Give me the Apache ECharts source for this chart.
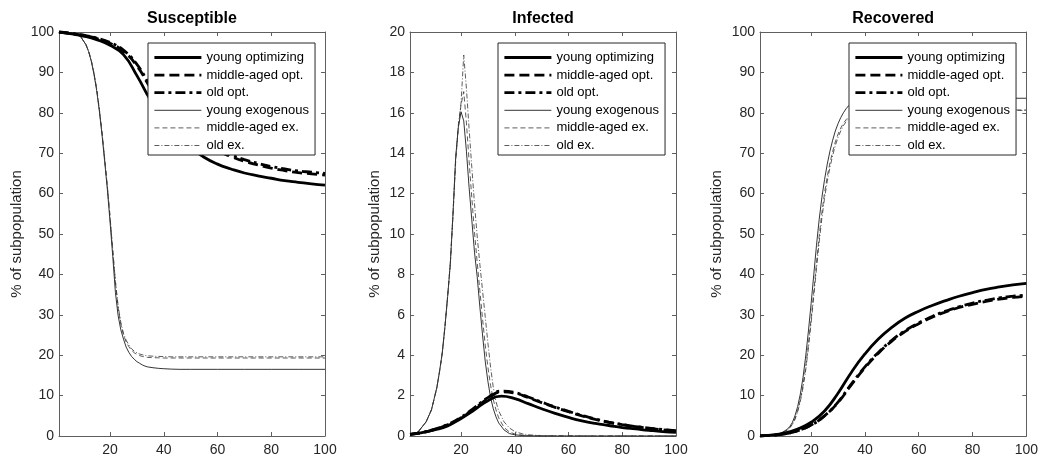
<!DOCTYPE html>
<html><head><meta charset="utf-8">
<script src="https://cdn.jsdelivr.net/npm/echarts@6/dist/echarts.min.js"></script>
<style>html,body{margin:0;padding:0;background:#fff}#c{width:1041px;height:459px}</style>
</head><body><div id="c"></div>
<script>
// ---------- data ----------
const seriesNames = ['young optimizing', 'middle-aged opt.', 'old opt.', 'young exogenous', 'middle-aged ex.', 'old ex.'];
const panelTitles = ['Susceptible', 'Infected', 'Recovered'];
const yLabel = '% of subpopulation';
const xTicks = [20, 40, 60, 80, 100];

const tSlow = [1,5,10,15,20,25,30,35,40,45,50,55,60,65,70,75,80,85,90,95,100];
const tFast = [1,4,7,9,11,12,13,14,15,16,17,18,19,20,21,22,23,24,25,26,27,28,29,30,31,32,33,34,36,38,40,43,46,50,60,70,80,90,100];

// Susceptible
const sYoungOpt = [100,99.6,99.0,98.1,96.7,94.4,89.2,83.2,78.3,74.5,71.4,69.0,67.3,66.1,65.1,64.4,63.8,63.2,62.8,62.4,62.1];
const sMidOpt   = [100,99.7,99.2,98.4,97.2,95.2,91.6,86.2,81.5,77.8,74.8,72.5,70.6,69.2,68.0,67.1,66.3,65.7,65.2,64.9,64.6];
const sOldOpt   = [100,99.7,99.2,98.5,97.4,95.5,92.0,86.7,82.0,78.3,75.3,73.0,71.0,69.6,68.4,67.5,66.7,66.1,65.6,65.3,65.0];
const sYoungEx  = [100,99.9,99.6,98.9,96.9,95.2,92.8,89.6,85.6,80.5,74.6,67.9,61.0,53.0,44.5,35.5,29.8,26.3,24.0,22.0,20.7,19.7,19.0,18.4,18.0,17.6,17.3,17.1,16.9,16.75,16.65,16.55,16.5,16.5,16.5,16.5,16.5,16.5,16.5];
const sMidEx    = [100,99.9,99.6,98.9,96.9,95.3,93.0,89.9,86.0,81.0,75.2,68.6,61.8,54.2,46.0,38.0,31.8,27.7,25.0,23.3,22.1,21.2,20.6,20.2,19.9,19.7,19.55,19.45,19.4,19.35,19.3,19.3,19.3,19.3,19.3,19.3,19.3,19.3,19.3];
const sOldEx    = [100,99.9,99.6,98.9,96.9,95.3,93.0,89.9,86.0,81.0,75.2,68.6,61.8,54.2,46.0,38.3,32.2,28.1,25.4,23.7,22.5,21.6,21.0,20.6,20.3,20.1,19.95,19.85,19.75,19.7,19.65,19.6,19.6,19.6,19.6,19.6,19.6,19.6,19.6];

// Infected
const iYoungOpt = [0.08,0.15,0.3,0.5,0.87,1.3,1.75,1.97,1.85,1.6,1.35,1.12,0.92,0.75,0.62,0.52,0.42,0.35,0.28,0.22,0.18];
const iMidOpt   = [0.08,0.15,0.32,0.55,0.9,1.35,1.85,2.18,2.12,1.9,1.65,1.42,1.2,1.0,0.82,0.68,0.56,0.46,0.38,0.31,0.25];
const iOldOpt   = [0.08,0.16,0.33,0.57,0.93,1.4,1.9,2.22,2.15,1.93,1.68,1.44,1.22,1.02,0.84,0.69,0.57,0.47,0.39,0.32,0.26];
const iYoungEx  = [0.05,0.2,0.7,1.3,2.4,3.2,4.1,5.4,6.9,8.5,11.0,13.8,15.3,16.05,15.6,14.1,12.3,10.7,9.1,7.9,6.4,5.0,3.7,2.7,1.9,1.35,0.95,0.65,0.3,0.12,0.06,0.02,0.01,0,0,0,0,0,0];
const iMidEx    = [0.05,0.2,0.7,1.3,2.4,3.2,4.1,5.4,6.9,8.5,10.9,13.6,15.3,16.4,17.05,15.5,13.6,11.8,10.1,8.6,7.2,5.8,4.5,3.4,2.5,1.8,1.3,0.9,0.42,0.2,0.1,0.04,0.02,0.01,0,0,0,0,0];
const iOldEx    = [0.05,0.2,0.7,1.3,2.4,3.2,4.1,5.4,6.9,8.6,11.0,13.7,15.4,16.5,18.86,17.2,15.2,13.3,11.5,9.9,8.5,7.2,5.9,4.6,3.4,2.4,1.7,1.25,0.7,0.4,0.22,0.1,0.05,0.02,0.01,0,0,0,0];

// Recovered
const rYoungOpt = [0,0.2,0.7,1.7,3.4,6.2,10.6,15.8,20.3,24.0,26.9,29.2,30.9,32.3,33.5,34.6,35.5,36.3,36.9,37.4,37.8];
const rMidOpt   = [0,0.15,0.5,1.3,2.7,5.0,8.3,12.7,16.9,20.5,23.5,25.9,27.8,29.4,30.7,31.8,32.6,33.3,33.9,34.3,34.6];
const rOldOpt   = [0,0.15,0.5,1.3,2.7,5.0,8.4,12.9,17.1,20.7,23.7,26.1,28.0,29.6,30.9,32.0,32.9,33.6,34.2,34.6,34.9];
const rYoungEx  = [0,0.1,0.4,0.8,1.6,2.3,3.3,5.0,7.3,10.4,14.5,19.8,26.0,32.8,40.0,47.2,53.6,59.0,63.5,67.3,70.5,73.2,75.5,77.3,78.8,80.0,81.0,81.8,82.8,83.3,83.5,83.6,83.6,83.6,83.6,83.6,83.6,83.6,83.6];
const rMidEx    = [0,0.1,0.35,0.7,1.4,2.0,2.9,4.3,6.3,9.0,12.6,17.2,22.8,29.0,35.8,42.8,49.5,55.3,60.2,64.2,67.6,70.4,72.8,74.7,76.2,77.4,78.3,79.0,79.9,80.3,80.5,80.6,80.7,80.7,80.7,80.7,80.7,80.7,80.7];
const rOldEx    = [0,0.1,0.35,0.7,1.4,2.0,2.8,4.1,6.0,8.6,12.0,16.4,21.8,28.0,34.6,41.5,48.0,53.9,58.9,63.0,66.5,69.4,71.9,73.9,75.5,76.8,77.8,78.6,79.6,80.1,80.4,80.55,80.6,80.6,80.6,80.6,80.6,80.6,80.6];

// ---------- chart ----------
const FONT = '"Liberation Sans", Arial, Helvetica, sans-serif';
const AX = '#5f5f5f';
const TXT = '#262626';
const zip = (t, v) => t.map((x, i) => [x, v[i]]);

const lineStyles = [
  { width: 2.8, type: 'solid', color: '#000' },
  { width: 2.8, type: [10, 5], color: '#000' },
  { width: 2.8, type: [10, 4, 3, 4], color: '#000' },
  { width: 0.8, type: 'solid', color: '#000' },
  { width: 0.8, type: [5, 3], color: '#333' },
  { width: 0.8, type: [5, 2, 1, 2], color: '#333' }
];

const panels = [
  { yMax: 100, yInt: 10, nameGap: 35, grid: { left: 59, width: 266 }, legendLeft: 148,
    data: [[tSlow, sYoungOpt], [tSlow, sMidOpt], [tSlow, sOldOpt], [tFast, sYoungEx], [tFast, sMidEx], [tFast, sOldEx]] },
  { yMax: 20, yInt: 2, nameGap: 28, grid: { left: 410, width: 266 }, legendLeft: 498,
    data: [[tSlow, iYoungOpt], [tSlow, iMidOpt], [tSlow, iOldOpt], [tFast, iYoungEx], [tFast, iMidEx], [tFast, iOldEx]] },
  { yMax: 100, yInt: 10, nameGap: 36, grid: { left: 760, width: 267 }, legendLeft: 849,
    data: [[tSlow, rYoungOpt], [tSlow, rMidOpt], [tSlow, rOldOpt], [tFast, rYoungEx], [tFast, rMidEx], [tFast, rOldEx]] }
];

const grid = [], xAxis = [], yAxis = [], series = [], legend = [];
panels.forEach((p, k) => {
  grid.push({ left: p.grid.left, width: p.grid.width, top: 32, height: 404 });
  const tick = { show: true, inside: true, length: 4, lineStyle: { color: AX, width: 1 } };
  const line = { show: true, onZero: false, lineStyle: { color: AX, width: 1 } };
  xAxis.push({ type: 'value', gridIndex: k, min: 1, max: 100, position: 'bottom',
    axisLine: line, axisTick: Object.assign({ customValues: xTicks }, tick),
    axisLabel: { customValues: xTicks, margin: 7, fontSize: 14, color: TXT, fontFamily: FONT },
    splitLine: { show: false } });
  xAxis.push({ type: 'value', gridIndex: k, min: 1, max: 100, position: 'top',
    axisLine: line, axisTick: Object.assign({ customValues: xTicks }, tick),
    axisLabel: { show: false }, splitLine: { show: false },
    name: panelTitles[k], nameLocation: 'middle', nameGap: 5,
    nameTextStyle: { fontSize: 16, fontWeight: 'bold', color: '#000', fontFamily: FONT } });
  yAxis.push({ type: 'value', gridIndex: k, min: 0, max: p.yMax, interval: p.yInt, position: 'left',
    axisLine: line, axisTick: tick,
    axisLabel: { margin: 5, fontSize: 14, color: TXT, fontFamily: FONT },
    splitLine: { show: false },
    name: yLabel, nameLocation: 'middle', nameGap: p.nameGap,
    nameTextStyle: { fontSize: 15, color: TXT, fontFamily: FONT } });
  yAxis.push({ type: 'value', gridIndex: k, min: 0, max: p.yMax, interval: p.yInt, position: 'right',
    axisLine: line, axisTick: tick, axisLabel: { show: false }, splitLine: { show: false } });

  p.data.forEach((d, j) => {
    series.push({
      type: 'line', name: seriesNames[j], xAxisIndex: 2 * k, yAxisIndex: 2 * k,
      data: zip(d[0], d[1]), symbol: 'none', smooth: d[0] === tSlow ? 0.5 : false,
      lineStyle: lineStyles[j], itemStyle: { color: lineStyles[j].color },
      z: j < 3 ? 3 : 2, animation: false, clip: true
    });
  });

  legend.push({
    data: seriesNames, orient: 'vertical', left: p.legendLeft, top: 43,
    itemWidth: 47, itemHeight: 12, itemGap: 4.6,
    padding: [8, 6, 3, 5], borderColor: TXT, borderWidth: 1, backgroundColor: '#fff',
    selectedMode: false,
    itemStyle: { opacity: 0 },
    lineStyle: { width: 'inherit', type: 'inherit', color: 'inherit', opacity: 1 },
    textStyle: { fontSize: 13, color: '#000', fontFamily: FONT, lineHeight: 12 }
  });
});

const chart = echarts.init(document.getElementById('c'), null, { renderer: 'canvas' });
chart.setOption({ animation: false, backgroundColor: '#fff', textStyle: { fontFamily: FONT }, grid, xAxis, yAxis, series, legend });
</script>
</body></html>
